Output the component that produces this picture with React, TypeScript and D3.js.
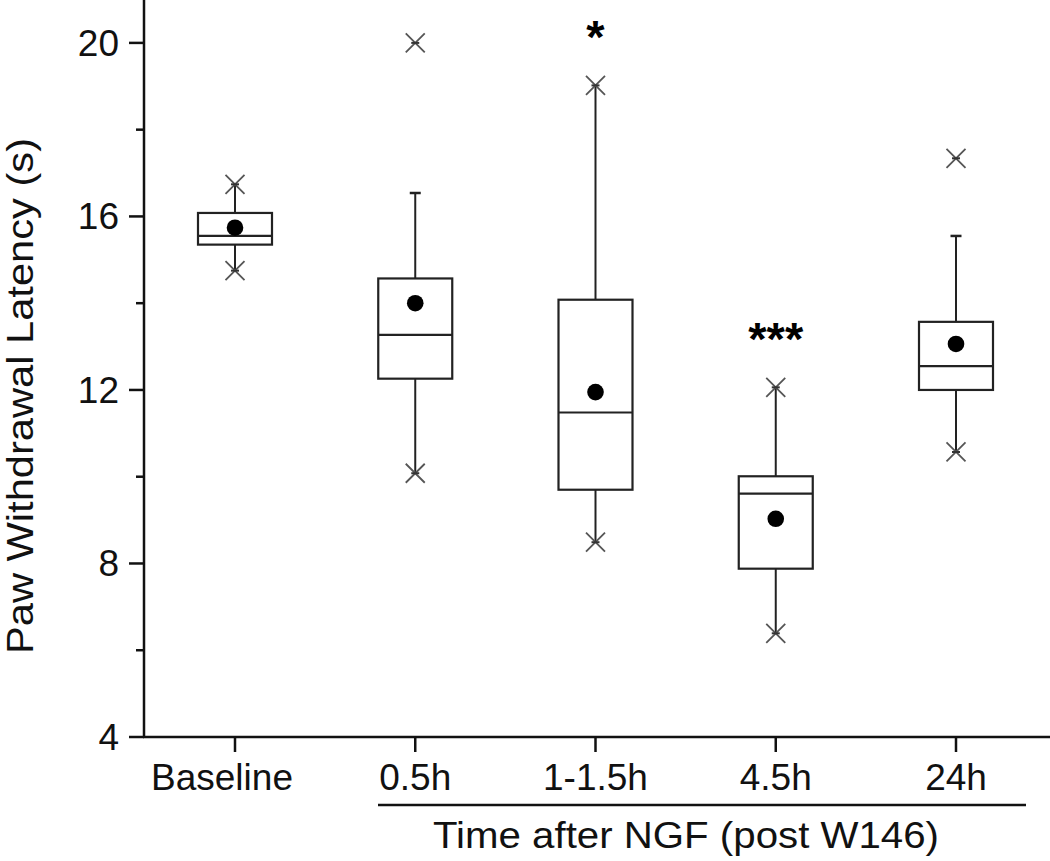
import React, { useEffect, useRef } from "react";
import * as d3 from "d3";

const categories = ["Baseline", "0.5h", "1-1.5h", "4.5h", "24h"];
const q1 = [15.35, 12.26, 9.7, 7.88, 12.0];
const median = [15.55, 13.27, 11.48, 9.61, 12.55];
const q3 = [16.08, 14.57, 14.08, 10.01, 13.57];
const mean = [15.74, 14.0, 11.95, 9.03, 13.06];
const whiskerLow = [14.75, 10.08, 8.49, 6.39, 10.57];
const whiskerHigh = [16.74, 16.54, 19.02, 12.06, 15.55];
const markHigh = [16.74, 20.0, 19.02, 12.06, 17.34];
const markLow = [14.75, 10.08, 8.49, 6.39, 10.57];
const significance = ["", "", "*", "***", ""];
const sigValue = [0, 0, 20.37, 13.4, 0];
const yMajorTicks = [4, 8, 12, 16, 20];
const yMinorTicks = [6, 10, 14, 18];

const W = 1050;
const H = 861;

export default function App() {
  const ref = useRef<SVGSVGElement | null>(null);

  useEffect(() => {
    const svg = d3.select(ref.current);
    svg.selectAll("*").remove();
    const font = "Liberation Sans, Arial, Helvetica, sans-serif";

    const axisX = 144;
    const axisY = 737;
    const y = d3.scaleLinear().domain([4, 20]).range([axisY, 42.9]);
    const x = d3.scalePoint<string>().domain(categories).range([235, 956]);
    const boxW = 74;

    const g = svg.append("g");

    g.append("line")
      .attr("x1", axisX).attr("x2", axisX)
      .attr("y1", 0).attr("y2", axisY + 1)
      .attr("stroke", "#111").attr("stroke-width", 2.5);
    g.append("line")
      .attr("x1", axisX - 1).attr("x2", W)
      .attr("y1", axisY).attr("y2", axisY)
      .attr("stroke", "#111").attr("stroke-width", 2.5);

    g.selectAll(".ymaj").data(yMajorTicks).enter().append("line")
      .attr("x1", axisX - 15).attr("x2", axisX)
      .attr("y1", (d) => y(d)).attr("y2", (d) => y(d))
      .attr("stroke", "#111").attr("stroke-width", 2.5);
    g.selectAll(".ymin").data(yMinorTicks).enter().append("line")
      .attr("x1", axisX - 8).attr("x2", axisX)
      .attr("y1", (d) => y(d)).attr("y2", (d) => y(d))
      .attr("stroke", "#111").attr("stroke-width", 2.5);
    g.selectAll(".ylab").data(yMajorTicks).enter().append("text")
      .attr("x", 119).attr("y", (d) => y(d) + 13)
      .attr("text-anchor", "end")
      .attr("font-family", font).attr("font-size", 37)
      .attr("fill", "#111")
      .text((d) => String(d));

    g.selectAll(".xt").data(categories).enter().append("line")
      .attr("x1", (d) => x(d)!).attr("x2", (d) => x(d)!)
      .attr("y1", axisY).attr("y2", axisY + 15)
      .attr("stroke", "#111").attr("stroke-width", 2.5);
    g.selectAll(".xl").data(categories).enter().append("text")
      .attr("x", (d, i) => x(d)! + (i === 0 ? -13 : 0)).attr("y", 790)
      .attr("text-anchor", "middle")
      .attr("font-family", font).attr("font-size", 37)
      .attr("fill", "#111")
      .text((d) => d);

    g.append("line")
      .attr("x1", 378).attr("x2", 1026)
      .attr("y1", 805).attr("y2", 805)
      .attr("stroke", "#111").attr("stroke-width", 2.5);
    g.append("text")
      .attr("x", 686).attr("y", 848)
      .attr("text-anchor", "middle")
      .attr("font-family", font).attr("font-size", 37)
      .attr("fill", "#111")
      .attr("textLength", 506)
      .attr("lengthAdjust", "spacingAndGlyphs")
      .text("Time after NGF (post W146)");

    g.append("text")
      .attr("transform", "translate(33,396) rotate(-90)")
      .attr("text-anchor", "middle")
      .attr("font-family", font).attr("font-size", 37)
      .attr("fill", "#111")
      .attr("textLength", 516)
      .attr("lengthAdjust", "spacingAndGlyphs")
      .text("Paw Withdrawal Latency (s)");

    const stroke = "#222";
    categories.forEach((c, i) => {
      const cx = x(c)!;
      g.append("line")
        .attr("x1", cx).attr("x2", cx)
        .attr("y1", y(q3[i])).attr("y2", y(whiskerHigh[i]))
        .attr("stroke", stroke).attr("stroke-width", 2);
      g.append("line")
        .attr("x1", cx).attr("x2", cx)
        .attr("y1", y(q1[i])).attr("y2", y(whiskerLow[i]))
        .attr("stroke", stroke).attr("stroke-width", 2);
      if (whiskerHigh[i] !== markHigh[i]) {
        g.append("line")
          .attr("x1", cx - 5.5).attr("x2", cx + 5.5)
          .attr("y1", y(whiskerHigh[i])).attr("y2", y(whiskerHigh[i]))
          .attr("stroke", stroke).attr("stroke-width", 2.5);
      }
      g.append("rect")
        .attr("x", cx - boxW / 2).attr("width", boxW)
        .attr("y", y(q3[i])).attr("height", y(q1[i]) - y(q3[i]))
        .attr("fill", "none").attr("stroke", stroke).attr("stroke-width", 2.2);
      g.append("line")
        .attr("x1", cx - boxW / 2).attr("x2", cx + boxW / 2)
        .attr("y1", y(median[i])).attr("y2", y(median[i]))
        .attr("stroke", stroke).attr("stroke-width", 2.2);
      g.append("circle")
        .attr("cx", cx).attr("cy", y(mean[i])).attr("r", 8.3)
        .attr("fill", "#000");
      [markHigh[i], markLow[i]].forEach((v) => {
        const py = y(v);
        const s = 9.5;
        g.append("path")
          .attr("d", `M${cx - s},${py - s}L${cx + s},${py + s}M${cx - s},${py + s}L${cx + s},${py - s}`)
          .attr("stroke", "#555").attr("stroke-width", 1.8).attr("fill", "none");
        g.append("line")
          .attr("x1", cx - 4).attr("x2", cx + 4)
          .attr("y1", py).attr("y2", py)
          .attr("stroke", "#333").attr("stroke-width", 2);
      });
      if (significance[i]) {
        g.append("text")
          .attr("x", cx).attr("y", y(sigValue[i]) + 26)
          .attr("text-anchor", "middle")
          .attr("font-family", font).attr("font-size", 47)
          .attr("font-weight", "bold")
          .attr("fill", "#000")
          .text(significance[i]);
      }
    });
  }, []);

  return (
    <div style={{ position: "absolute", left: 0, top: 0, width: W, height: H, background: "#fff" }}>
      <svg ref={ref} width={W} height={H} style={{ display: "block" }} />
    </div>
  );
}
